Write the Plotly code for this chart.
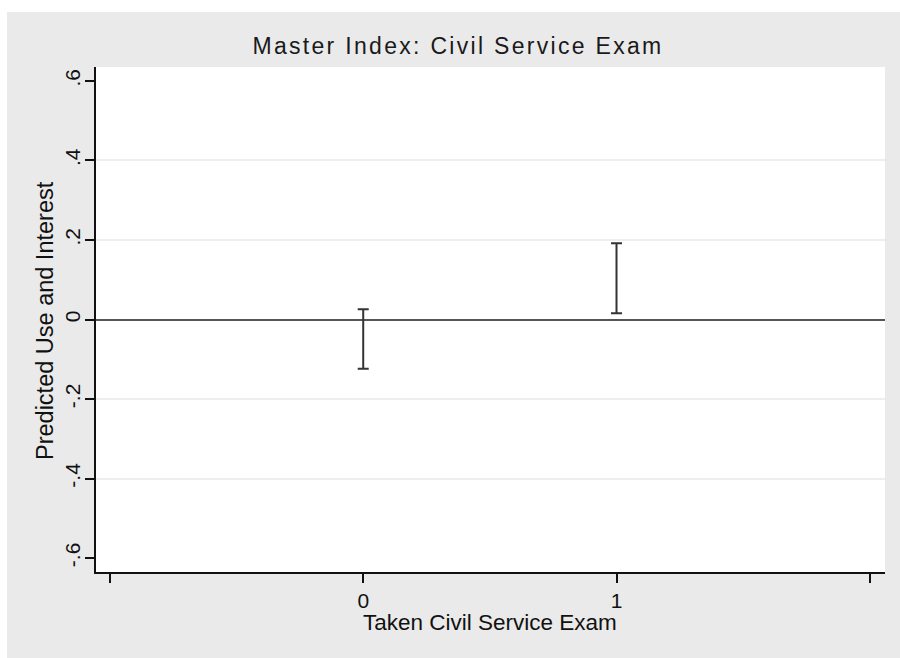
import plotly.graph_objects as go

# ---- data ----
exam_taken = [0, 1]
ci_lower = [-0.124, 0.016]
ci_upper = [0.026, 0.192]

y_ticks = [-0.6, -0.4, -0.2, 0, 0.2, 0.4, 0.6]
y_tick_labels = ["-.6", "-.4", "-.2", "0", ".2", ".4", ".6"]
y_grid = [-0.4, -0.2, 0.2, 0.4]
x_ticks = [-1, 0, 1, 2]
x_tick_labels = ["", "0", "1", ""]

title_text = "Master Index: Civil Service Exam"
x_title = "Taken Civil Service Exam"
y_title = "Predicted Use and Interest"

# ---- layout constants ----
W, H = 900, 658
ML, MR, MT, MB = 96, 15, 67, 86
GREY = "#EAEAEA"
FONT = "Liberation Sans, Arial, sans-serif"

mid = [(a + b) / 2 for a, b in zip(ci_lower, ci_upper)]
plus = [b - m for b, m in zip(ci_upper, mid)]
minus = [m - a for a, m in zip(ci_lower, mid)]

fig = go.Figure()
fig.add_trace(go.Scatter(
    x=exam_taken, y=mid, mode="markers",
    marker=dict(size=1, opacity=0),
    error_y=dict(type="data", symmetric=False, array=plus, arrayminus=minus,
                 color="#333333", thickness=2, width=5.5),
    showlegend=False, hoverinfo="skip",
))
fig.add_trace(go.Scatter(x=[], y=[], yaxis="y2", showlegend=False))

pw = W - ML - MR
ph = H - MT - MB
def px_to_paper_x(px):
    return (px - ML) / pw
def px_to_paper_y(py):
    return (H - MB - py) / ph

shapes = [
    # white strip at top of page
    dict(type="rect", xref="paper", yref="paper",
         x0=px_to_paper_x(0), x1=px_to_paper_x(W),
         y0=px_to_paper_y(12), y1=px_to_paper_y(0),
         fillcolor="white", line=dict(width=0)),
    # white strip at left of page
    dict(type="rect", xref="paper", yref="paper",
         x0=px_to_paper_x(0), x1=px_to_paper_x(7),
         y0=px_to_paper_y(H), y1=px_to_paper_y(0),
         fillcolor="white", line=dict(width=0)),
]

annotations = [
    dict(text=x_title, xref="paper", yref="paper",
         x=px_to_paper_x(490), y=px_to_paper_y(622),
         xanchor="center", yanchor="middle", showarrow=False,
         font=dict(family=FONT, size=22.5, color="#111111")),
    dict(text=y_title, xref="paper", yref="paper",
         x=px_to_paper_x(45), y=px_to_paper_y(321),
         xanchor="center", yanchor="middle", textangle=-90, showarrow=False,
         font=dict(family=FONT, size=23.5, color="#111111")),
]

rng = [-0.635, 0.635]
fig.update_layout(
    width=W, height=H,
    margin=dict(l=ML, r=MR, t=MT, b=MB, pad=0),
    paper_bgcolor=GREY, plot_bgcolor="white",
    font=dict(family=FONT, color="#111111"),
    title=dict(
        text='<span style="letter-spacing:2.3px">' + title_text + '</span>',
        x=458 / W, xanchor="center", xref="container",
        y=1 - 45.6 / H, yanchor="middle", yref="container",
        font=dict(family=FONT, size=23, color="#1a1a1a"),
    ),
    xaxis=dict(
        range=[-1.055, 2.06], tickmode="array", tickvals=x_ticks, ticktext=x_tick_labels,
        showgrid=False, zeroline=False,
        showline=True, linecolor="#111111", linewidth=1.5,
        ticks="outside", ticklen=9, tickwidth=1.5, tickcolor="#111111",
        tickfont=dict(family=FONT, size=21, color="#111111"),
        ticklabelstandoff=0,
        fixedrange=True,
    ),
    yaxis=dict(
        range=rng, tickmode="array", tickvals=y_ticks, ticktext=y_tick_labels,
        tickangle=-90, showgrid=False,
        zeroline=True, zerolinecolor="#555555", zerolinewidth=2,
        showline=True, linecolor="#111111", linewidth=1.5,
        ticks="outside", ticklen=9, tickwidth=1.5, tickcolor="#111111",
        tickfont=dict(family=FONT, size=21, color="#111111"),
        ticklabelstandoff=-3,
        fixedrange=True,
    ),
    yaxis2=dict(
        range=rng, overlaying="y", anchor="x", side="left",
        tickmode="array", tickvals=y_grid, showticklabels=False, ticks="",
        showgrid=True, gridcolor="#EEEEEE", gridwidth=1.5,
        zeroline=False, showline=False, fixedrange=True,
    ),
    shapes=shapes,
    annotations=annotations,
    showlegend=False,
)

fig.write_html(
    "out.html",
    config={"displayModeBar": False},
    post_script=(
        "document.documentElement.style.margin='0';"
        "document.documentElement.style.overflow='hidden';"
        "document.body.style.margin='0';"
        "document.body.style.overflow='hidden';"
    ),
)
